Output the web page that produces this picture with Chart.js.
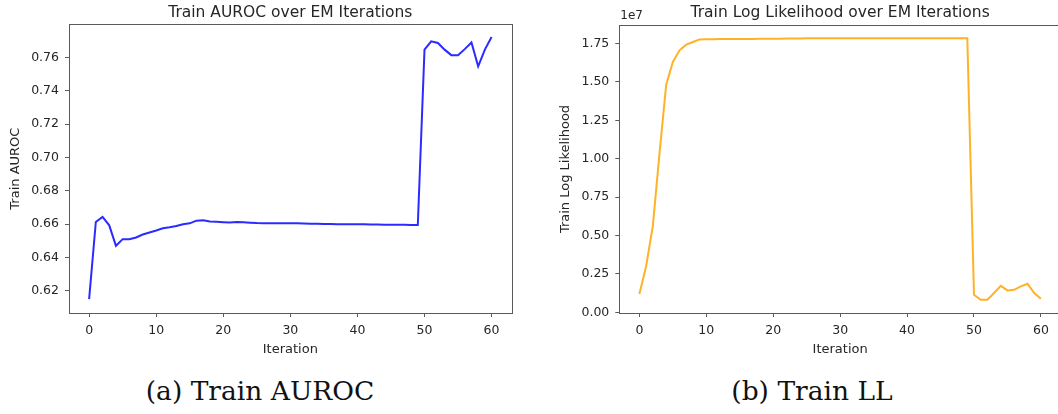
<!DOCTYPE html>
<html>
<head>
<meta charset="utf-8">
<script src="https://cdn.jsdelivr.net/npm/chart.js@4"></script>
<style>
  html, body { margin: 0; padding: 0; background: #fff; overflow: hidden; }
  #wrap { position: relative; width: 1058px; height: 414px; }
  canvas { position: absolute; top: 0; }
  .cap { position: absolute; top: 376px; font-family: "DejaVu Serif", serif; font-size: 26.5px; line-height: 30px; color: #111; text-align: center; white-space: nowrap; }
</style>
</head>
<body>
<div id="wrap">
  <canvas id="aurocChart" width="530" height="360" style="left:0px"></canvas>
  <canvas id="llChart" width="520" height="360" style="left:550px"></canvas>
  <div class="cap" style="left:110px;width:300px">(a) Train AUROC</div>
  <div class="cap" style="left:662px;width:300px">(b) Train LL</div>
</div>
<script>
// EM iteration index
const iterations = [0,1,2,3,4,5,6,7,8,9,10,11,12,13,14,15,16,17,18,19,20,
  21,22,23,24,25,26,27,28,29,30,31,32,33,34,35,36,37,38,39,40,
  41,42,43,44,45,46,47,48,49,50,51,52,53,54,55,56,57,58,59,60];

const trainAuroc = [0.615,0.6613,0.6643,0.6593,0.647,0.651,0.651,0.652,0.6538,0.655,0.6562,
  0.6575,0.6581,0.6589,0.6599,0.6605,0.6621,0.6623,0.6616,0.6614,0.6612,
  0.661,0.6613,0.6611,0.6609,0.6607,0.6606,0.6606,0.6605,0.6605,0.6605,
  0.6605,0.6604,0.6603,0.6602,0.6601,0.6601,0.66,0.66,0.6599,0.6599,
  0.6599,0.6598,0.6598,0.6597,0.6596,0.6596,0.6596,0.6595,0.6595,0.7647,
  0.7697,0.7687,0.7647,0.7614,0.7613,0.765,0.769,0.7547,0.7647,0.7723];

const trainLL = [1.19e6,2.99e6,5.59e6,1.03e7,1.48e7,1.63e7,1.706e7,1.743e7,1.76e7,1.777e7,1.779e7,
  1.779e7,1.7795e7,1.7795e7,1.78e7,1.78e7,1.7805e7,1.7805e7,1.781e7,1.781e7,1.7815e7,
  1.782e7,1.7825e7,1.783e7,1.7835e7,1.784e7,1.7845e7,1.785e7,1.785e7,1.785e7,1.785e7,
  1.785e7,1.785e7,1.785e7,1.785e7,1.785e7,1.785e7,1.785e7,1.785e7,1.785e7,1.785e7,
  1.785e7,1.785e7,1.785e7,1.785e7,1.785e7,1.785e7,1.785e7,1.785e7,1.785e7,1.15e6,
  8.25e5,8.25e5,1.26e6,1.73e6,1.43e6,1.47e6,1.69e6,1.86e6,1.26e6,8.9e5];

const xTicks = [0,10,20,30,40,50,60];
const aurocTicks = [0.62,0.64,0.66,0.68,0.70,0.72,0.74,0.76];
const llTicks = [0,2.5e6,5e6,7.5e6,1e7,1.25e7,1.5e7,1.75e7];

const TXT = '#262626';
const SPINE = '#5a5a5a';

// matplotlib style box, axes title centred on the plot area, offset text
const boxPlugin = {
  id: 'box',
  afterDraw(chart, args, opts) {
    const {ctx, chartArea: a} = chart;
    ctx.save();
    ctx.strokeStyle = SPINE;
    ctx.lineWidth = 1;
    ctx.strokeRect(Math.round(a.left) + 0.5, Math.round(a.top) + 0.5,
      Math.round(a.right - a.left), Math.round(a.bottom - a.top));
    ctx.fillStyle = TXT;
    ctx.font = '15.5px "DejaVu Sans"';
    ctx.textAlign = 'center';
    ctx.textBaseline = 'middle';
    ctx.fillText(opts.title, (a.left + a.right) / 2, 12.5);
    if (opts.offsetText) {
      ctx.font = '12px "DejaVu Sans"';
      ctx.textAlign = 'start';
      ctx.direction = 'ltr';
      ctx.textBaseline = 'middle';
      ctx.fillText(opts.offsetText, a.left + 1, 16);
    }
    ctx.restore();
  }
};

function makeChart(id, values, color, yMin, yMax, yTicks, yFmt, cfg) {
  const pts = iterations.map((it, i) => ({x: it, y: values[i]}));
  return new Chart(document.getElementById(id), {
    type: 'line',
    data: { datasets: [{ data: pts, borderColor: color, borderWidth: 2, pointRadius: 0, tension: 0, fill: false }] },
    options: {
      responsive: false,
      animation: false,
      devicePixelRatio: 1,
      layout: { padding: { left: 0, right: cfg.padRight, top: cfg.padTop, bottom: 0 } },
      plugins: {
        legend: { display: false },
        tooltip: { enabled: false },
        title: { display: false },
        box: { title: cfg.title, offsetText: cfg.offsetText }
      },
      scales: {
        x: {
          type: 'linear', min: -3, max: 63,
          afterBuildTicks: s => { s.ticks = xTicks.map(v => ({value: v})); },
          afterFit: s => { s.height = 47; },
          border: { display: false },
          grid: { display: true, drawOnChartArea: false, drawTicks: true, tickLength: 4, tickColor: SPINE },
          ticks: { color: TXT, padding: 6, font: { family: 'DejaVu Sans', size: 12.5 }, maxRotation: 0 },
          title: { display: true, text: 'Iteration', color: TXT, font: { family: 'DejaVu Sans', size: 13 }, padding: { top: 0, bottom: 3 } }
        },
        y: {
          type: 'linear', min: yMin, max: yMax,
          afterBuildTicks: s => { s.ticks = yTicks.map(v => ({value: v})); },
          afterFit: s => { s.width = cfg.yWidth; },
          border: { display: false },
          grid: { display: true, drawOnChartArea: false, drawTicks: true, tickLength: 4, tickColor: SPINE },
          ticks: { color: TXT, padding: 6, font: { family: 'DejaVu Sans', size: 12.5 }, callback: yFmt },
          title: { display: true, text: cfg.yTitle, color: TXT, font: { family: 'DejaVu Sans', size: 13 }, padding: { top: 7.5, bottom: 0 } }
        }
      }
    },
    plugins: [boxPlugin]
  });
}

makeChart('aurocChart', trainAuroc, 'rgba(20,20,255,0.9)', 0.6067, 0.7799, aurocTicks,
  v => v.toFixed(2),
  { title: 'Train AUROC over EM Iterations', yTitle: 'Train AUROC', padRight: 18.3, padTop: 24.3, yWidth: 69 });

makeChart('llChart', trainLL, 'rgba(255,165,0,0.85)', -0.04e6, 1.871e7, llTicks,
  v => (v / 1e7).toFixed(2),
  { title: 'Train Log Likelihood over EM Iterations', yTitle: 'Train Log Likelihood', padRight: 9, padTop: 25, yWidth: 69.3, offsetText: '1e7' });
</script>
</body>
</html>
